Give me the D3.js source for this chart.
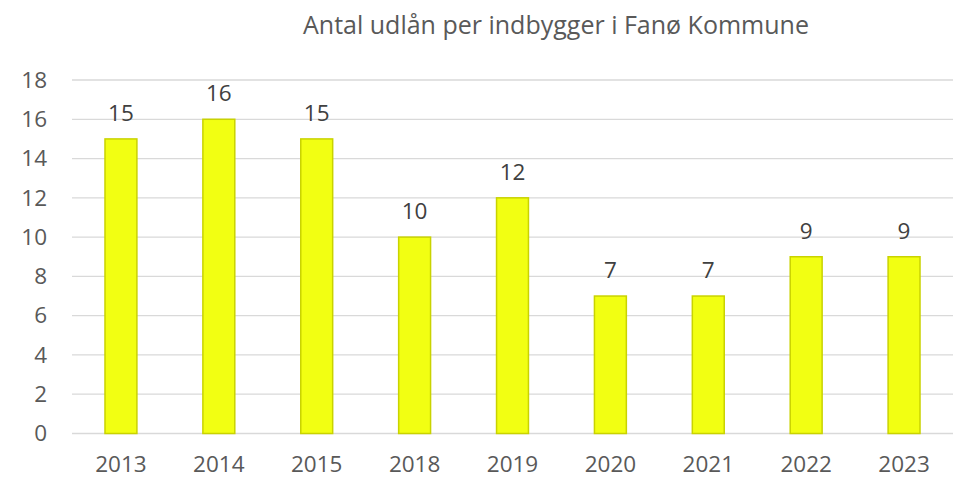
<!DOCTYPE html>
<html>
<head>
<meta charset="utf-8">
<script src="https://cdn.jsdelivr.net/npm/d3@7"></script>
<style>
  body { margin: 0; background: #fff; }
  svg { display: block; font-family: 'Open Sans', sans-serif; }
</style>
</head>
<body>
<svg id="chart"></svg>
<script>
const years = ['2013', '2014', '2015', '2018', '2019', '2020', '2021', '2022', '2023'];
const loans = [15, 16, 15, 10, 12, 7, 7, 9, 9];
const yTicks = [0, 2, 4, 6, 8, 10, 12, 14, 16, 18];
const title = 'Antal udlån per indbygger i Fanø Kommune';

const width = 953, height = 479;
const svg = d3.select('#chart')
  .attr('width', width)
  .attr('height', height);

const x = d3.scaleBand()
  .domain(years)
  .range([72, 953])
  .paddingInner(0.674)
  .paddingOuter(0.337);

const y = d3.scaleLinear()
  .domain([0, 18])
  .range([433.5, 80]);

// gridlines
svg.append('g')
  .selectAll('line')
  .data(yTicks)
  .enter()
  .append('line')
  .attr('x1', 72)
  .attr('x2', 953)
  .attr('y1', d => y(d))
  .attr('y2', d => y(d))
  .attr('stroke', '#d9d9d9')
  .attr('stroke-width', 1.3);

// y axis labels
const yAxis = d3.axisLeft(y).tickValues(yTicks).tickSize(0).tickPadding(0);
const gy = svg.append('g')
  .attr('transform', 'translate(47,0)')
  .call(yAxis);
gy.select('.domain').remove();
gy.selectAll('text')
  .attr('font-family', 'Open Sans, sans-serif')
  .attr('font-size', 22.5)
  .attr('fill', '#595959');

// x axis labels
const xAxis = d3.axisBottom(x).tickSize(0).tickPadding(0);
const gx = svg.append('g')
  .attr('transform', 'translate(0,456)')
  .call(xAxis);
gx.select('.domain').remove();
gx.selectAll('text')
  .attr('y', 0)
  .attr('dy', 16)
  .attr('font-family', 'Open Sans, sans-serif')
  .attr('font-size', 22.5)
  .attr('fill', '#595959');

// bars
svg.append('g')
  .selectAll('rect')
  .data(years)
  .enter()
  .append('rect')
  .attr('x', d => x(d))
  .attr('y', (d, i) => y(loans[i]))
  .attr('width', x.bandwidth())
  .attr('height', (d, i) => y(0) - y(loans[i]))
  .attr('fill', '#f2ff12')
  .attr('stroke', '#c9d300')
  .attr('stroke-width', 1.5);

// value labels
svg.append('g')
  .selectAll('text')
  .data(years)
  .enter()
  .append('text')
  .attr('x', d => x(d) + x.bandwidth() / 2)
  .attr('y', (d, i) => y(loans[i]) - 18)
  .attr('text-anchor', 'middle')
  .attr('font-size', 22.5)
  .attr('fill', '#404040')
  .text((d, i) => loans[i]);

// title
svg.append('text')
  .attr('x', 556)
  .attr('y', 34)
  .attr('text-anchor', 'middle')
  .attr('font-size', 25)
  .attr('fill', '#595959')
  .text(title);
</script>
</body>
</html>
